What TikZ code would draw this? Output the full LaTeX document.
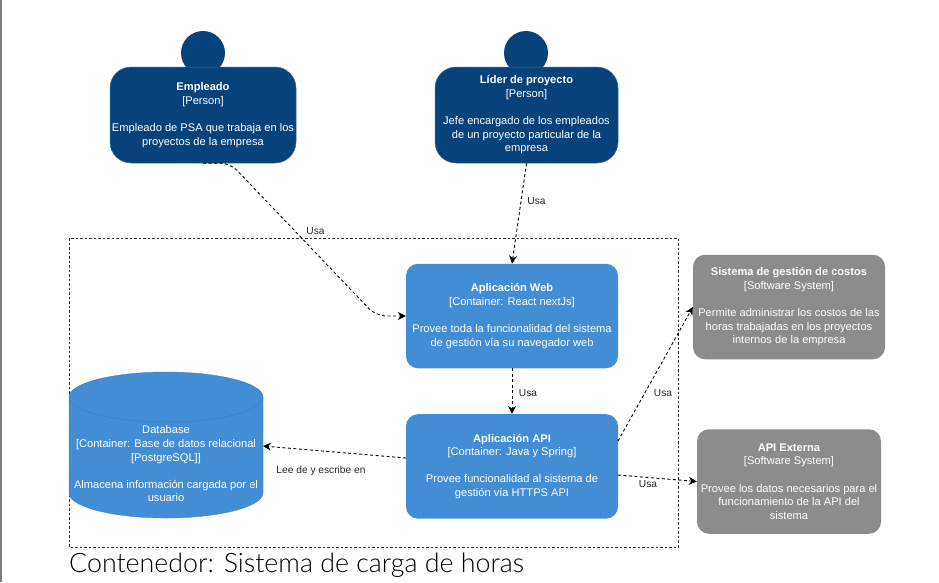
\documentclass[tikz,border=0pt]{standalone}
\usepackage{fontspec}
\setmainfont{Liberation Sans}
\newfontfamily\titlefont{Lato Light}
\definecolor{person}{HTML}{08427B}
\definecolor{container}{HTML}{438DD5}
\definecolor{external}{HTML}{8C8C8C}
\usetikzlibrary{arrows.meta, positioning}

\begin{document}
\begin{tikzpicture}[
    x=1pt, y=-1pt,
    box/.style={rectangle, text=white, align=center, rounded corners=12pt,
        inner sep=0pt, font=\fontsize{11.1}{13.6}\selectfont,
        execute at begin node={\rule{0pt}{12.5pt}}},
    personbox/.style={box, fill=person, draw=person!80!white, line width=0.5pt,
        minimum height=96pt, rounded corners=21pt},
    head/.style={circle, fill=person, minimum size=44pt, inner sep=0pt},
    appbox/.style={box, fill=container, minimum width=212pt, minimum height=104.5pt},
    extbox/.style={box, fill=external, minimum height=104.5pt},
    dbshape/.style={fill=container, draw=container!85!black, line width=0.3pt},
    arr/.style={-{Stealth[length=8pt,width=8pt]}, dash pattern=on 3pt off 2.5pt, line width=0.9pt, black},
    lbl/.style={inner sep=0pt, font=\fontsize{10.2}{12}\selectfont, text=black!85},
    node distance=45.5pt
]
\useasboundingbox (0,0) rectangle (939,582);
\fill[black!50] (0,0) rectangle (2,582);

% people
\node[head] (empHead) at (203,53) {};
\node[head] (liderHead) at (526,53) {};
\node[personbox, minimum width=186pt] (emp) at (203,115) {\textbf{Empleado}\\{}[Person]\\[13.6pt]Empleado de PSA que trabaja en los\\proyectos de la empresa};
\node[personbox, minimum width=183pt] (lider) at (526.5,115) {\textbf{Líder de proyecto}\\{}[Person]\\[13.6pt]Jefe encargado de los empleados\\de un proyecto particular de la\\empresa};

% system boundary
\draw[dash pattern=on 2.5pt off 2pt, line width=0.6pt, black!85] (69,238) rectangle (678,547);
\node[anchor=base west, inner sep=0pt, font=\titlefont\fontsize{26.8}{30}\selectfont, text=black] (title) at (69,572) {Contenedor: Sistema de carga de horas};

% containers
\node[appbox] (web) at (512,316) {\textbf{Aplicación Web}\\{}[Container: React nextJs]\\[13.6pt]Provee toda la funcionalidad del sistema\\de gestión vía su navegador web};
\node[appbox, below=of web] (api) {\textbf{Aplicación API}\\{}[Container: Java y Spring]\\[13.6pt]Provee funcionalidad al sistema de\\gestión vía HTTPS API};
\draw[dbshape] (69,397) -- (69,493) arc[start angle=180, end angle=360, x radius=97pt, y radius=25pt]
    -- (263,397) arc[start angle=0, end angle=180, x radius=97pt, y radius=25pt] -- cycle;
\draw[dbshape, fill=none] (69,397) arc[start angle=180, end angle=360, x radius=97pt, y radius=25pt];
\node[box, fill=none] (dbText) at (166,464) {Database\\{}[Container: Base de datos relacional\\{}[PostgreSQL]]\\[13.6pt]Almacena información cargada por el\\usuario};

% external systems
\node[extbox, minimum width=192pt] (costos) at (789,307) {\textbf{Sistema de gestión de costos}\\{}[Software System]\\[13.6pt]Permite administrar los costos de las\\horas trabajadas en los proyectos\\internos de la empresa};
\node[extbox, minimum width=184pt] (ext) at (789,481.5) {\textbf{API Externa}\\{}[Software System]\\[13.6pt]Provee los datos necesarios para el\\funcionamiento de la API del\\sistema};

\coordinate (empBend) at (230,163);
\coordinate (webBend) at (376,316);
\coordinate (apiCostos) at (618,441);
\coordinate (apiExt) at (618,475);
\coordinate (apiDb) at (406,458);
\coordinate (dbIn) at (263,446);

\draw[arr, rounded corners=10pt] (emp.south) -- (empBend) -- (webBend) -- (web.west);
\draw[arr] (lider.south) -- (web.north);
\draw[arr] (web) -- (api);
\draw[arr] (apiCostos) -- (costos.west);
\draw[arr] (apiExt) -- (ext.west);
\draw[arr] (apiDb) -- (dbIn);

\node[lbl] (usaEmp) at (315.5,231) {Usa};
\node[lbl] (usaLider) at (536.5,201) {Usa};
\node[lbl] (usaWeb) at (528,393) {Usa};
\node[lbl] (usaCostos) at (663,393) {Usa};
\node[lbl] (usaExt) at (648,484) {Usa};
\node[lbl] (usaDb) at (321,471) {Lee de y escribe en};
\end{tikzpicture}
\end{document}
